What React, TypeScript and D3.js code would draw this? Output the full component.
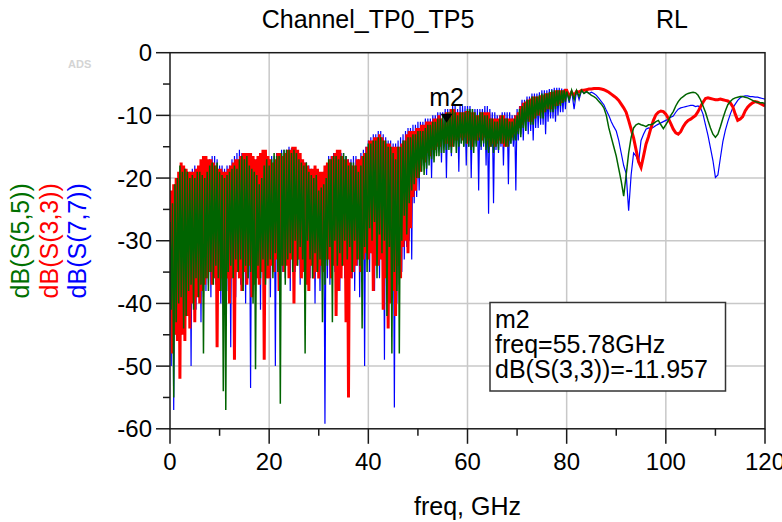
import React, { useEffect, useRef } from 'react';
import * as d3 from 'd3';

const WIDTH = 782;
const HEIGHT = 522;

// sweep: 0..80 GHz at 0.25 GHz, then 80.5..120 GHz at 0.5 GHz
const fineStop = 80;
const fineStep = 0.25;
const coarseStart = 80.5;
const coarseStop = 120;
const coarseStep = 0.5;

// dB(S(5,5)), 0..80 GHz
const s55Fine: number[] = [
  -27, -41, -24, -55, -21, -43, -20, -40,
  -18, -39, -19, -44, -18.5, -42, -19, -38,
  -20, -37, -19.5, -41, -20, -36, -19, -39,
  -19, -37, -19.5, -48, -20, -36, -19, -38,
  -18, -35, -17.5, -37, -18, -34, -17.5, -36,
  -19, -38, -19.5, -54, -20, -57, -19.5, -35,
  -19, -34, -18.5, -36, -18, -33, -18.5, -35,
  -17, -33, -16.5, -38, -17, -34, -16.5, -36,
  -18, -35, -18.5, -40, -19, -50.5, -19.5, -34,
  -21, -36, -20, -33, -18, -37, -17, -34,
  -18, -33, -17, -36, -16, -32, -16.5, -35,
  -16.5, -56, -16, -34, -15.5, -37, -15.5, -33,
  -15.5, -32, -16, -35, -15.5, -30, -16, -34,
  -17, -31, -17.5, -33, -18, -48, -17.5, -30,
  -19, -33, -19.5, -36, -20, -32, -19.5, -35,
  -22, -33, -21.5, -43, -21, -37, -20, -34,
  -17, -31, -17, -43, -16.5, -30, -16.5, -34,
  -17, -32, -16.5, -34, -16, -30, -16.5, -33,
  -18, -31, -17.5, -35, -17.5, -30, -18, -33,
  -19, -34, -18, -44, -16.5, -31, -16, -35,
  -14.5, -28, -14.5, -30, -14, -27, -14, -36,
  -13.5, -29, -13.5, -32, -14, -30, -14, -42,
  -15, -31, -15, -48, -16, -35, -17, -38,
  -15, -48, -15, -30, -14, -26, -14, -29,
  -13.5, -24, -13.5, -22, -13, -21, -13, -20,
  -12.5, -20, -12.5, -19, -12.5, -19.5, -12, -18.5,
  -11.5, -18, -11.5, -17, -11, -17.5, -11, -16.5,
  -10.5, -16.5, -10.5, -16, -10, -16, -10, -15.5,
  -9.5, -15.5, -9.5, -16, -9, -15, -9.5, -16,
  -10, -15, -9.5, -14.5, -9.5, -15, -9.5, -14.5,
  -9, -15, -9, -15.5, -9, -16, -9.5, -15,
  -10, -14, -9.5, -15, -9.5, -14.5, -10, -15.5,
  -10, -16, -10.5, -15, -10.5, -16, -11, -15,
  -11, -15.5, -10.5, -14.5, -10, -14.5, -10.5, -15,
  -10.5, -15, -11, -14.5, -11, -14, -10.5, -14,
  -10, -13, -9, -13.5, -8.5, -12, -8, -12.5,
  -7.5, -11, -7.5, -11.5, -7, -11.5, -7, -10.5,
  -7, -10, -6.8, -10.5, -6.5, -10.5, -6.5, -9.5,
  -6.5, -9, -6.3, -9.5, -6, -9.5, -6, -9,
  -6, -8.5, -6, -8.5, -6, -8, -6, -7.8,
  -6.2,
];
// dB(S(5,5)), 80.5..120 GHz
const s55Coarse: number[] = [
  -7.5, -6, -7.5, -6, -7, -6, -6.5, -6.2, -6.5,
  -6.8, -7, -7.3, -7.8, -8.2, -8.8, -10, -12, -13.5, -15,
  -16.5, -18.5, -20.5, -22.9, -19.5, -16, -13.5, -12, -11.5, -11.3,
  -11.5, -11.6, -11.8, -11.5, -11.5, -11.3, -11, -10.8, -11.5, -12.1,
  -11.5, -10.8, -10, -9.4, -8.5, -7.8, -7.3, -7, -6.7, -6.5,
  -6.4, -6.3, -6.4, -6.8, -7.5, -8.5, -9.5, -10.8, -12, -13,
  -13.5, -13, -11.8, -10.5, -9.3, -8.3, -7.8, -7.4, -7.2, -7.1,
  -7, -7, -7.1, -7.2, -7.4, -7.6, -7.8, -7.9, -8, -8,
  -8.1,
];

// dB(S(3,3)), 0..80 GHz
const s33Fine: number[] = [
  -30, -22, -48, -21, -45, -20, -46, -19,
  -52, -17.5, -45, -18, -46, -18.5, -42, -19,
  -44, -19, -40, -19, -43, -18.5, -39, -18,
  -40, -17, -38, -16.5, -37, -16.5, -36, -17,
  -35, -17, -37, -17.5, -36, -18, -47, -18.5,
  -38, -18.5, -36, -19, -39, -19, -36, -18.5,
  -40, -18, -36, -17.5, -49, -17, -35, -17,
  -36, -16.5, -38, -16, -35, -16, -37, -16,
  -34, -16, -39, -16.5, -37, -17, -36, -16.5,
  -37, -16, -35, -15.5, -49, -15.5, -36, -16.5,
  -36, -17, -34, -17.5, -35, -17, -33, -16,
  -38, -16, -34, -16.5, -35, -16, -34, -15.5,
  -36, -15.5, -33, -15, -40, -15, -34, -15.5,
  -33, -16, -36, -17, -35, -17.5, -37, -18,
  -38, -18.5, -34, -18.5, -36, -18, -35, -18.5,
  -36, -19, -34, -19, -35, -18, -33, -17.5,
  -33, -17, -36, -16.5, -34, -16, -42, -15.5,
  -38, -15.5, -36, -16.5, -34, -17, -43, -17,
  -55, -17.5, -36, -18, -35, -18, -34, -17,
  -33, -17, -35, -16.5, -33, -16, -32, -15,
  -33, -14, -32, -14, -38, -13.5, -34, -13.5,
  -34, -13, -33, -13.5, -41, -14, -36, -14.5,
  -44, -14.5, -40, -15, -38, -15, -42, -15,
  -34, -15, -36, -14.5, -31, -14, -30, -13,
  -32, -12.5, -28, -12.5, -23, -12.5, -22, -12,
  -20, -12, -19, -11.5, -17, -11.5, -17.5, -11,
  -16, -11, -16.5, -11, -15.5, -10.5, -15.5, -10.5,
  -15, -10, -15, -10.5, -12.5, -11.5, -14.5, -9.5,
  -14.5, -9.5, -15, -9, -15, -9, -14, -9.5,
  -14, -9.5, -13.5, -9.5, -14, -9.5, -13.5, -9.3,
  -14.5, -9.3, -14, -9.5, -15, -9.5, -14, -10,
  -14, -10, -13.5, -9.5, -14, -9.5, -13.5, -9.5,
  -14, -9.5, -15, -10.5, -14.5, -10.5, -15, -10.5,
  -14.5, -10.5, -14, -10, -14.5, -10, -15, -10.5,
  -15, -10.5, -14, -10.5, -13.5, -10.5, -13, -10,
  -12.5, -9.5, -12, -8.5, -11.5, -8, -11, -7.8,
  -10.5, -7.5, -11, -7.3, -11, -7, -10.5, -7,
  -10, -7, -10, -6.8, -9.5, -6.8, -9.5, -6.5,
  -9, -6.5, -9, -6.3, -9, -6.3, -8.5, -6,
  -8.5, -6, -8.2, -6, -8, -6, -7.5, -6,
  -6,
];
// dB(S(3,3)), 80.5..120 GHz
const s33Coarse: number[] = [
  -7, -6.3, -6.8, -6.2, -6.3, -6, -6, -5.9, -5.8,
  -5.8, -5.7, -5.7, -5.7, -5.8, -5.9, -6.1, -6.3, -6.6, -6.9,
  -7.2, -7.6, -8.2, -8.8, -9.5, -10.8, -12.2, -13.6, -15.5, -17.4,
  -18.3, -16.5, -14.6, -13.4, -12, -10.8, -9.9, -9.5, -9.3, -9.4,
  -9.8, -10.5, -11.3, -12.2, -12.8, -13, -12.6, -11.8, -11.2, -10.8,
  -10.6, -10.3, -10, -9.4, -8.6, -7.9, -7.3, -7.2, -7.3, -7.4,
  -7.5, -7.5, -7.4, -7.5, -7.6, -7.7, -8, -8.6, -9.8, -10.8,
  -10.6, -10.2, -9.3, -8.7, -8.3, -8, -7.8, -7.9, -8.1, -8.3,
  -8.5,
];

// dB(S(7,7)), 0..80 GHz
const s77Fine: number[] = [
  -30, -50, -24, -57, -22, -45, -20, -44,
  -19, -45, -19, -40, -18.5, -42, -19, -39,
  -19, -50, -18.5, -40, -18, -41, -18.5, -38,
  -18.5, -43, -18, -39, -18, -38, -17.5, -37,
  -17, -39, -16.5, -36, -16.5, -37, -17, -35,
  -18, -40, -18, -37, -18.5, -42, -18, -38,
  -18, -47, -17, -36, -16.5, -39, -16, -35,
  -15.5, -37, -16, -34, -16, -40, -16, -36,
  -16.5, -53.5, -16.5, -36, -17, -38, -17, -35,
  -16.5, -41, -16, -35, -16, -37, -16.5, -34,
  -17, -39, -16.5, -35, -16.5, -50, -16, -34,
  -16, -37, -15.5, -35, -15.5, -36, -15.5, -33,
  -15, -38, -15.2, -34, -15.5, -35, -16, -33,
  -16.5, -37, -17, -34, -17.5, -39, -17.5, -35,
  -18, -36, -18.5, -34, -19, -40, -19.5, -35,
  -20, -38, -19.5, -35, -19, -59.2, -18, -36,
  -16.5, -37, -16.5, -34, -16, -35, -16, -33,
  -16.5, -38, -16, -34, -16, -36, -16.5, -33,
  -17, -34, -17, -36, -16.5, -38, -16.5, -34,
  -17, -39, -16, -36, -15.5, -50, -15, -33,
  -14, -35, -13.5, -32, -13, -38, -13, -34,
  -12.5, -36, -12.5, -33, -13, -49, -13.5, -37,
  -14, -40, -14, -36, -14.5, -56.6, -14.5, -40,
  -14, -37, -13.5, -35, -13, -33, -12.5, -31,
  -12, -30, -12, -33, -11.5, -24, -11.5, -23,
  -11, -22, -11, -18, -11, -17, -10.5, -19.5,
  -10.5, -16, -10.5, -20, -10, -15.5, -10, -16,
  -9.5, -15, -9.5, -17.5, -9.5, -15, -9, -20,
  -9, -15, -9, -16.5, -8.5, -14.5, -8.5, -15,
  -9, -19, -8.5, -14.5, -8.5, -15, -8.5, -18,
  -8.5, -15, -8.5, -20, -9, -15, -9, -14.5,
  -9, -22, -9, -15.5, -9, -15, -8.5, -18,
  -8.5, -25.7, -9, -15, -9.5, -24, -9.5, -15.5,
  -10, -16, -10, -15, -9.5, -18, -9.5, -14.5,
  -9.5, -21, -9.5, -14.5, -10, -15, -10, -22,
  -9, -14, -8.5, -13, -7.5, -14, -7.5, -12.5,
  -7, -13, -7, -12.5, -6.5, -14, -6.5, -12,
  -6.5, -12, -6.3, -11.5, -6, -11.5, -6, -13,
  -6, -11, -5.8, -10.5, -5.8, -10.5, -5.6, -11,
  -5.6, -10, -5.6, -9.5, -5.7, -9.5, -5.8, -9,
  -5.8,
];
// dB(S(7,7)), 80.5..120 GHz
const s77Coarse: number[] = [
  -8, -6, -9, -6, -7.5, -6, -6.5, -6.2, -6.5,
  -6.3, -6.5, -6.8, -7.3, -7.8, -8.3, -9.2, -10, -11, -11.8,
  -12.5, -14, -16, -18, -19.3, -25.2, -19.5, -16, -16.5, -17.5,
  -14, -13, -12.2, -12, -12.1, -11.9, -11.6, -11.4, -11.2, -11,
  -10.8, -10.6, -10.3, -10.1, -9.5, -9, -8.8, -8.7, -8.6, -8.5,
  -8.4, -8.4, -8.6, -8.5, -8.8, -9.8, -11.5, -13.2, -15.2, -17.2,
  -19.9, -19.5, -16.8, -14.2, -12.4, -11, -9.8, -8.8, -8.2, -7.6,
  -7.2, -7, -6.9, -6.9, -7, -7, -7.1, -7.1, -7.2, -7.3,
  -7.4,
];

const xTicks = [0, 20, 40, 60, 80, 100, 120];
const yTicks = [0, -10, -20, -30, -40, -50, -60];

const markerName = 'm2';
const markerFreq = 55.78;
const markerValue = -11.957;

const FONT = '"Liberation Sans", Arial, sans-serif';

// drawing order: blue under red under green
const series = [
  { key: 'dB(S(7,7))', values: s77Fine.concat(s77Coarse), color: '#0000ff', width: 1.2 },
  { key: 'dB(S(3,3))', values: s33Fine.concat(s33Coarse), color: '#ff0000', width: 3 },
  { key: 'dB(S(5,5))', values: s55Fine.concat(s55Coarse), color: '#006400', width: 1.5 },
];

// y-axis label order, left to right
const labelOrder = [
  { key: 'dB(S(5,5))', color: '#007000' },
  { key: 'dB(S(3,3))', color: '#ff0000' },
  { key: 'dB(S(7,7))', color: '#0000ff' },
];

export default function App() {
  const ref = useRef<SVGSVGElement>(null);

  useEffect(() => {
    const svg = d3.select(ref.current);
    svg.selectAll('*').remove();

    const left = 170, right = 765, top = 52.7, bottom = 428.8;
    const x = d3.scaleLinear().domain([0, 120]).range([left, right]);
    const y = d3.scaleLinear().domain([-60, 0]).range([bottom, top]);
    const freqs = d3.range(0, fineStop + 1e-9, fineStep)
      .concat(d3.range(coarseStart, coarseStop + 1e-9, coarseStep));

    svg.append('rect').attr('width', WIDTH).attr('height', HEIGHT).attr('fill', '#fff');

    // titles
    svg.append('text').attr('x', 368).attr('y', 28).attr('text-anchor', 'middle')
      .attr('font-family', FONT).attr('font-size', 25).text('Channel_TP0_TP5');
    svg.append('text').attr('x', 672).attr('y', 28).attr('text-anchor', 'middle')
      .attr('font-family', FONT).attr('font-size', 25).text('RL');
    svg.append('text').attr('x', 68).attr('y', 68)
      .attr('font-family', FONT).attr('font-size', 11).attr('font-weight', 'bold')
      .attr('fill', '#d4d4d4').text('ADS');

    // grid
    const grid = svg.append('g').attr('stroke', '#c8c8c8').attr('stroke-width', 1.5);
    xTicks.slice(1, -1).forEach(t => {
      grid.append('line').attr('x1', x(t)).attr('x2', x(t)).attr('y1', top).attr('y2', bottom);
    });
    yTicks.slice(1, -1).forEach(t => {
      grid.append('line').attr('x1', left).attr('x2', right).attr('y1', y(t)).attr('y2', y(t));
    });

    // traces
    svg.append('clipPath').attr('id', 'plotclip').append('rect')
      .attr('x', left).attr('y', top).attr('width', right - left).attr('height', bottom - top);
    const line = d3.line<[number, number]>()
      .x(d => x(d[0]))
      .y(d => y(d[1]));
    const plot = svg.append('g').attr('clip-path', 'url(#plotclip)');
    series.forEach(s => {
      plot.append('path')
        .attr('d', line(d3.zip(freqs, s.values) as [number, number][]))
        .attr('fill', 'none')
        .attr('stroke', s.color)
        .attr('stroke-width', s.width);
    });

    // frame
    svg.append('rect').attr('x', left).attr('y', top)
      .attr('width', right - left).attr('height', bottom - top)
      .attr('fill', 'none').attr('stroke', '#1a1a1a').attr('stroke-width', 1.5);

    // ticks
    const ticks = svg.append('g').attr('stroke', '#1a1a1a').attr('stroke-width', 1.5);
    d3.range(-60, 0.1, 5).forEach(v => {
      const len = v % 10 === 0 ? 14 : 7;
      ticks.append('line').attr('x1', left - len).attr('x2', left).attr('y1', y(v)).attr('y2', y(v));
    });
    d3.range(0, 120.1, 10).forEach(v => {
      const len = v % 20 === 0 ? 15 : 7;
      ticks.append('line').attr('x1', x(v)).attr('x2', x(v)).attr('y1', bottom).attr('y2', bottom + len);
    });

    svg.append('g').selectAll('text').data(yTicks).enter().append('text')
      .attr('x', 152).attr('y', d => y(d)).attr('dy', '0.36em')
      .attr('text-anchor', 'end').attr('font-family', FONT).attr('font-size', 24)
      .text(d => d);
    svg.append('g').selectAll('text').data(xTicks).enter().append('text')
      .attr('x', d => x(d)).attr('y', 470)
      .attr('text-anchor', 'middle').attr('font-family', FONT).attr('font-size', 24)
      .text(d => d);

    svg.append('text').attr('x', (left + right) / 2).attr('y', 515).attr('text-anchor', 'middle')
      .attr('font-family', FONT).attr('font-size', 25).text('freq, GHz');

    // y label: one coloured line per trace
    labelOrder.forEach((l, i) => {
      svg.append('text')
        .attr('transform', `translate(${29 + i * 28.5},${(top + bottom) / 2}) rotate(-90)`)
        .attr('text-anchor', 'middle').attr('font-family', FONT).attr('font-size', 25)
        .attr('fill', l.color).text(l.key);
    });

    // marker
    const mx = x(markerFreq), my = y(markerValue);
    svg.append('path')
      .attr('d', `M${mx - 6},${my - 14}L${mx + 6},${my - 14}L${mx},${my - 5}Z`)
      .attr('fill', '#000');
    svg.append('text').attr('x', mx).attr('y', my - 22).attr('text-anchor', 'middle')
      .attr('font-family', FONT).attr('font-size', 25).text(markerName);

    // marker readout
    const box = svg.append('g');
    box.append('rect').attr('x', 490).attr('y', 302.5).attr('width', 235.5).attr('height', 88.5)
      .attr('fill', '#fff').attr('stroke', '#333').attr('stroke-width', 1.5);
    const readout = [
      markerName,
      `freq=${markerFreq}GHz`,
      `dB(S(3,3))=${markerValue}`,
    ];
    readout.forEach((t, i) => {
      box.append('text').attr('x', 495).attr('y', 328 + i * 25)
        .attr('font-family', FONT).attr('font-size', 25).text(t);
    });
  }, []);

  return (
    <svg ref={ref} width={WIDTH} height={HEIGHT}
      style={{ position: 'absolute', left: 0, top: 0, display: 'block' }} />
  );
}
